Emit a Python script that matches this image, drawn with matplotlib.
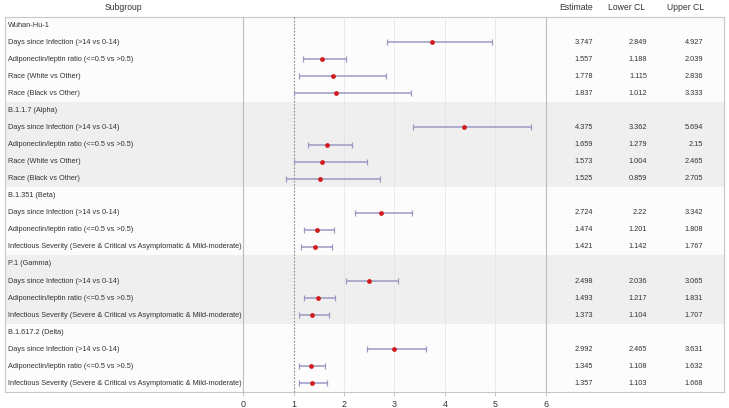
"""
Forest plot of odds ratios by variant subgroup, with table of estimates.
"""

import matplotlib.pyplot as plt
import numpy as np

plt.rcParams["font.family"] = ["Liberation Sans", "DejaVu Sans"]

# ---- data ---------------------------------------------------------------
group_names = ["Wuhan-Hu-1", "B.1.1.7 (Alpha)", "B.1.351 (Beta)",
               "P.1 (Gamma)", "B.1.617.2 (Delta)"]
group_sizes = [4, 4, 3, 3, 3]
group_shaded = [False, True, False, True, False]

subgroups = [
    "Days since Infection (>14 vs 0-14)",
    "Adiponectin/leptin ratio (<=0.5 vs >0.5)",
    "Race (White vs Other)",
    "Race (Black vs Other)",
    "Days since Infection (>14 vs 0-14)",
    "Adiponectin/leptin ratio (<=0.5 vs >0.5)",
    "Race (White vs Other)",
    "Race (Black vs Other)",
    "Days since Infection (>14 vs 0-14)",
    "Adiponectin/leptin ratio (<=0.5 vs >0.5)",
    "Infectious Severity (Severe & Critical vs Asymptomatic & Mild-moderate)",
    "Days since Infection (>14 vs 0-14)",
    "Adiponectin/leptin ratio (<=0.5 vs >0.5)",
    "Infectious Severity (Severe & Critical vs Asymptomatic & Mild-moderate)",
    "Days since Infection (>14 vs 0-14)",
    "Adiponectin/leptin ratio (<=0.5 vs >0.5)",
    "Infectious Severity (Severe & Critical vs Asymptomatic & Mild-moderate)",
]
estimate = [3.747, 1.557, 1.778, 1.837,
            4.375, 1.659, 1.573, 1.525,
            2.724, 1.474, 1.421,
            2.498, 1.493, 1.373,
            2.992, 1.345, 1.357]
lower_cl = [2.849, 1.188, 1.115, 1.012,
            3.362, 1.279, 1.004, 0.859,
            2.22, 1.201, 1.142,
            2.036, 1.217, 1.104,
            2.465, 1.108, 1.103]
upper_cl = [4.927, 2.039, 2.836, 3.333,
            5.694, 2.15, 2.465, 2.705,
            3.342, 1.808, 1.767,
            3.065, 1.831, 1.707,
            3.631, 1.632, 1.668]
x_ticks = [0, 1, 2, 3, 4, 5, 6]
ref_line = 1

# ---- layout (pixels) ----------------------------------------------------
W, H = 729, 408
TOP, BOT = 16.5, 392
TAB_L, TAB_R = 5, 724
PLT_L, PLT_R = 243, 546
TXT = "#333333"
GRID = "#bdbdbd"

# row bookkeeping: header row then its items
rows = []          # (kind, text, item index or None, shaded)
k = 0
for g, n, sh in zip(group_names, group_sizes, group_shaded):
    rows.append(("head", g, None, sh))
    for _ in range(n):
        rows.append(("item", subgroups[k], k, sh))
        k += 1
n_rows = len(rows)

fig = plt.figure(figsize=(W / 100, H / 100), dpi=100, facecolor="white")

# table background
tab = fig.add_axes([TAB_L / W, (H - BOT) / H, (TAB_R - TAB_L) / W, (BOT - TOP) / H])
tab.set_xlim(TAB_L, TAB_R)
tab.set_ylim(n_rows - 0.5, -0.5)
for i, (_, _, _, sh) in enumerate(rows):
    tab.axhspan(i - 0.5, i + 0.5, color="#efefef" if sh else "#fcfcfc", lw=0, zorder=0)
tab.set_xticks([]); tab.set_yticks([])
for s in tab.spines.values():
    s.set_color("#c8c8c8"); s.set_linewidth(0.8)

# forest panel
ax = fig.add_axes([PLT_L / W, (H - BOT) / H, (PLT_R - PLT_L) / W, (BOT - TOP) / H])
ax.patch.set_alpha(0)
ax.set_xlim(x_ticks[0], x_ticks[-1])
ax.set_ylim(n_rows - 0.5, -0.5)
ax.set_xticks(x_ticks)
ax.set_xticklabels([str(t) for t in x_ticks], fontsize=6.5, color=TXT)
ax.tick_params(axis="x", length=3, width=0.6, color=GRID, pad=3)
ax.set_yticks([])
for t in x_ticks[1:-1]:
    if t != ref_line:
        ax.axvline(t, color="#e3e3e3", lw=0.5, zorder=1)
ax.axvline(ref_line, color="#888888", lw=0.8, ls=(0, (1.5, 1.5)), zorder=2)
ax.spines["top"].set_visible(False)
ax.spines["bottom"].set_visible(False)
for s in ("left", "right"):
    ax.spines[s].set_color(GRID); ax.spines[s].set_linewidth(0.8)

item_y = np.array([i for i, r in enumerate(rows) if r[0] == "item"])
est = np.array(estimate)
lo = np.array(lower_cl)
hi = np.array(upper_cl)
ax.errorbar(est, item_y, xerr=[est - lo, hi - est], fmt="none",
            ecolor="#9a9ac4", elinewidth=1.1, capsize=2.5, capthick=0.9, zorder=3)
ax.scatter(est, item_y, s=12, color="#d01c1c", zorder=4, linewidths=0)

# table text
for i, (kind, text, idx, _) in enumerate(rows):
    tab.text(TAB_L + 3, i, text, ha="left", va="center", fontsize=5.3, color=TXT)
    if kind == "item":
        for xr, vals in ((593, estimate), (647, lower_cl), (703, upper_cl)):
            tab.text(xr, i, str(vals[idx]), ha="right", va="center",
                     fontsize=5.3, color=TXT)

# header row
hy = 1 - 8 / H
for xc, label in ((123, "Subgroup"), (576, "Estimate"), (627, "Lower CL"), (686, "Upper CL")):
    fig.text(xc / W, hy, label, ha="center", va="center", fontsize=6.2, color=TXT)

fig.savefig("out.png", dpi=100, facecolor="white")
